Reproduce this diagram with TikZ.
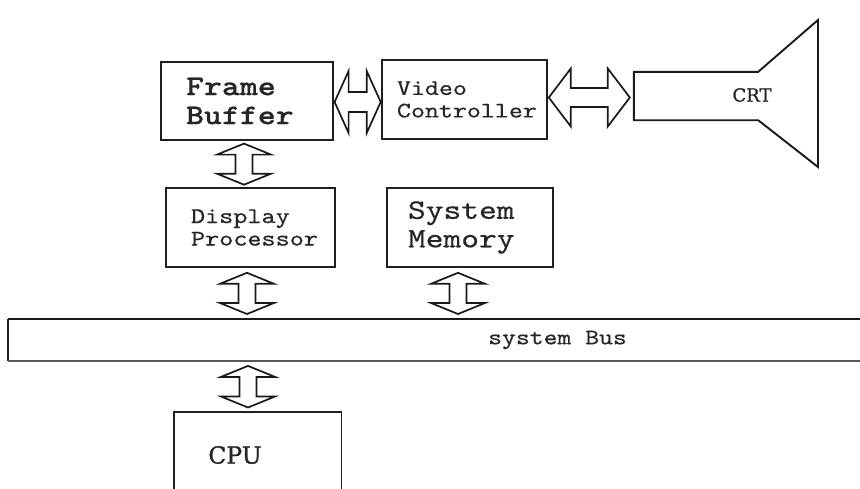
\documentclass[tikz,border=0pt]{standalone}
\usepackage{fontspec}
\newfontfamily\cour{lmmono10-regular}[Extension=.otf, FakeStretch=1.2, FakeBold=0.5, BoldFont=lmmonolt10-bold]
\newfontfamily\serifb{DejaVu Serif}[FakeBold=1.2]
\usetikzlibrary{calc}
\tikzset{
  ink/.style={draw=black!88, line width=1.6pt},
  box/.style={ink, rectangle, align=left, inner ysep=0pt, text=black!85},
  blk/.style={draw=black!90, line width=1.7pt, line join=miter, fill=white},
}
% vertical double block arrow: x, upper anchor, lower anchor, gap
\newcommand{\vblock}[4]{%
  \draw[blk] let \p1=(#2), \p2=(#3) in
    ({#1pt},{\y1-#4pt}) -- ({#1pt+27pt},{\y1-#4pt-11pt}) -- ({#1pt+8.5pt},{\y1-#4pt-11pt})
    -- ({#1pt+8.5pt},{\y2+#4pt+11pt}) -- ({#1pt+27pt},{\y2+#4pt+11pt}) -- ({#1pt},{\y2+#4pt})
    -- ({#1pt-27pt},{\y2+#4pt+11pt}) -- ({#1pt-8.5pt},{\y2+#4pt+11pt})
    -- ({#1pt-8.5pt},{\y1-#4pt-11pt}) -- ({#1pt-27pt},{\y1-#4pt-11pt}) -- cycle;}
% horizontal double block arrow: yc, left anchor, right anchor, gapL, gapR, headlen, H, h
\newcommand{\hblock}[8]{%
  \draw[blk] let \p1=(#2), \p2=(#3) in
    ({\x1+#4pt},{#1pt}) -- ({\x1+#4pt+#6pt},{#1pt+#7pt}) -- ({\x1+#4pt+#6pt},{#1pt+#8pt})
    -- ({\x2-#5pt-#6pt},{#1pt+#8pt}) -- ({\x2-#5pt-#6pt},{#1pt+#7pt}) -- ({\x2-#5pt},{#1pt})
    -- ({\x2-#5pt-#6pt},{#1pt-#7pt}) -- ({\x2-#5pt-#6pt},{#1pt-#8pt})
    -- ({\x1+#4pt+#6pt},{#1pt-#8pt}) -- ({\x1+#4pt+#6pt},{#1pt-#7pt}) -- cycle;}
\begin{document}
\begin{tikzpicture}[x=1pt,y=1pt]
\useasboundingbox (0,0) rectangle (860,-488);
\fill[white] (0,0) rectangle (860,-488);
\clip (0,0) rectangle (860,-488);

% boxes
\node[box, line width=2.2pt, minimum height=78pt, inner xsep=25pt, text width=122pt,
      font=\cour\bfseries\fontsize{28.5}{29}\selectfont] (fb) at (247,-101) {Frame\\Buffer};
\node[box, minimum height=79pt, inner xsep=15pt, text width=135pt,
      font=\cour\fontsize{22.2}{22.5}\selectfont] (vc) at (464.5,-99.5) {Video\\Controller};
\node[box, minimum height=79pt, inner xsep=25pt, text width=119pt,
      font=\cour\fontsize{22.4}{22.5}\selectfont] (dp) at (250.5,-227.5) {Display\\Processor};
\node[box, minimum height=79pt, inner xsep=21pt, text width=124pt,
      font=\cour\fontsize{28.2}{28.5}\selectfont] (sm) at (470,-227.5) {System\\Memory};

% system bus (open to the right)
\node[minimum width=870pt, minimum height=42pt, inner sep=0pt, anchor=north west] (bus) at (8,-319) {};
\draw[draw=black!90, line width=2.6pt] (bus.north east) -- (bus.north west);
\draw[ink] (bus.north west) -- (bus.south west);
\draw[draw=black!65, line width=2pt] (bus.south west) -- (bus.south east);
\node[font=\cour\fontsize{22}{22}\selectfont, text=black!85] (bustext) at (557.5,-340) {system Bus};

% CPU (runs off the bottom)
\node[minimum width=167pt, minimum height=80pt, inner sep=0pt, anchor=north west] (cpu) at (174,-412) {};
\draw[ink] (cpu.south west) |- (cpu.north east) -- (cpu.south east);
\node[font=\serifb\fontsize{23.5}{24}\selectfont, text=black!85] (cputext) at (235,-455) {CPU};

% CRT
\node[minimum width=124pt, minimum height=48pt, inner sep=0pt] (crt) at (696,-96) {};
\draw[draw=black!90, line width=1.9pt, line join=miter]
  (crt.north west) -- (crt.north east) -- (818,-20) -- (818,-167) -- (crt.south east) -- (crt.south west) -- cycle;
\node[font=\serifb\fontsize{18}{20}\selectfont, text=black!85] (crttext) at (752,-95) {CRT};

% block arrows
\hblock{-102}{fb.east}{vc.west}{0.5}{0.5}{14}{31}{10}
\hblock{-97.5}{vc.east}{crt.west}{1}{4}{22}{29}{9.5}
\vblock{244}{fb.south}{dp.north}{2.5}
\vblock{247}{dp.south}{bus.north}{5}
\vblock{458}{sm.south}{bus.north}{5}
\vblock{248}{bus.south}{cpu.north}{4.5}
\end{tikzpicture}
\end{document}
